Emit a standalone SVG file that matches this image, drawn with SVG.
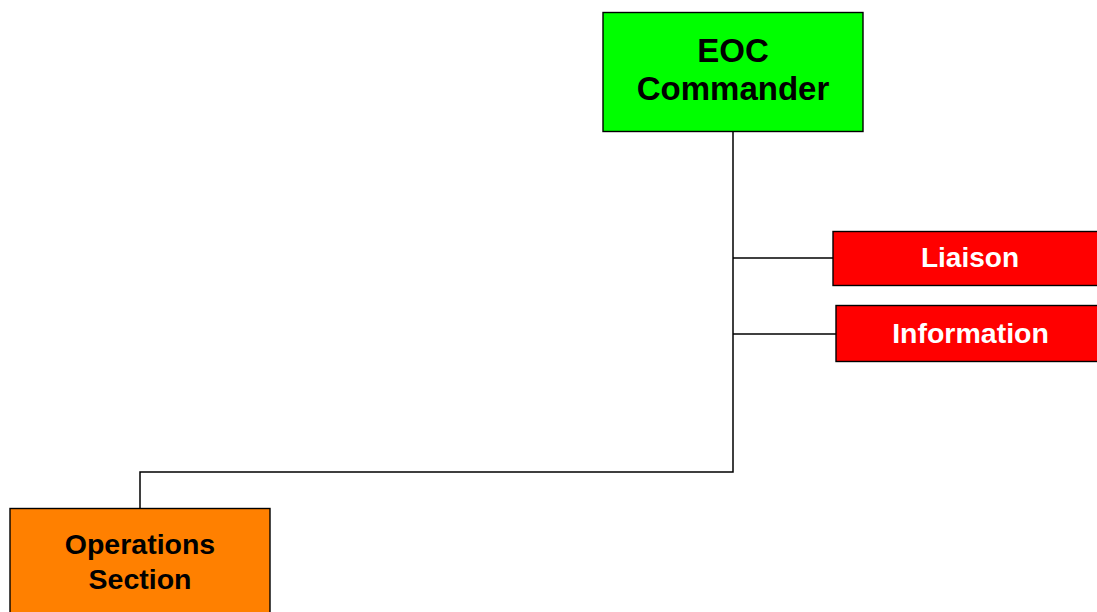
<svg xmlns="http://www.w3.org/2000/svg" width="1097" height="612" viewBox="0 0 1097 612">
  <style>
    .box { stroke: #000; stroke-width: 1.4; }
    .link { fill: none; stroke: #000; stroke-width: 1.5; }
    .label { font-family: "Liberation Sans", Arial, sans-serif; font-weight: bold; text-anchor: middle; }
  </style>
  <rect width="1097" height="612" fill="#fff"/>

  <g id="connectors">
    <path class="link" d="M733,131 V472 H140 V508"/>
    <path class="link" d="M733,258 H833"/>
    <path class="link" d="M733,334 H836"/>
  </g>

  <g id="eoc-commander">
    <rect class="box" x="603" y="12.5" width="260" height="119" fill="#00ff00"/>
    <text class="label" x="733" y="61.5" font-size="33" fill="#000">EOC</text>
    <text class="label" x="733" y="99.5" font-size="33" fill="#000">Commander</text>
  </g>

  <g id="liaison">
    <rect class="box" x="833" y="231.5" width="274" height="54" fill="#ff0000"/>
    <text class="label" x="970" y="266.5" font-size="28" fill="#fff">Liaison</text>
  </g>

  <g id="information">
    <rect class="box" x="836" y="305.5" width="271" height="56" fill="#ff0000"/>
    <text class="label" x="970.5" y="342.5" font-size="28.5" fill="#fff">Information</text>
  </g>

  <g id="operations-section">
    <rect class="box" x="10" y="508.5" width="260" height="110" fill="#ff8000"/>
    <text class="label" x="140" y="554" font-size="28.5" fill="#000">Operations</text>
    <text class="label" x="140" y="588.5" font-size="28.5" fill="#000">Section</text>
  </g>
</svg>
